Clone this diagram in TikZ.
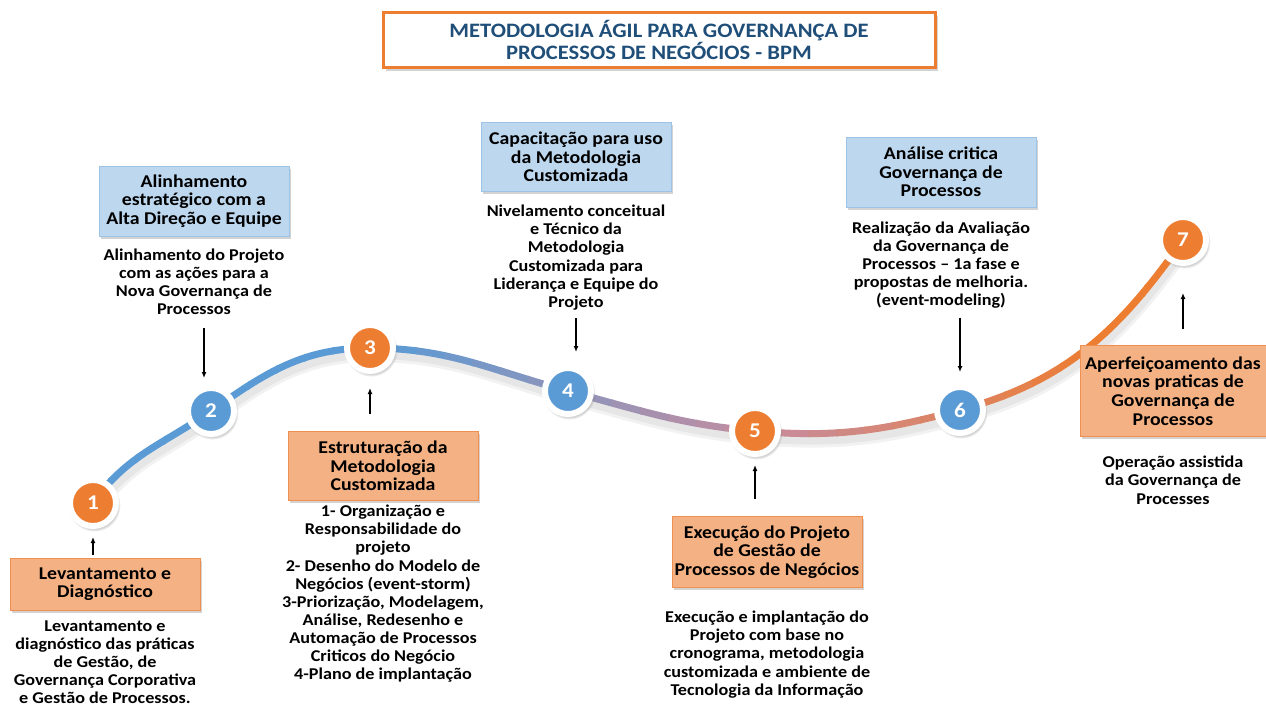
\documentclass[tikz,border=0pt]{standalone}
\usepackage{fontspec}
\setmainfont{Carlito}[FakeStretch=1.1]
\usetikzlibrary{arrows.meta,shadows,backgrounds,positioning}
\definecolor{laranja}{HTML}{ED7D31}
\definecolor{azul}{HTML}{5B9BD5}
\definecolor{malva}{HTML}{C78C9E}
\definecolor{laranjaClaro}{HTML}{F4B183}
\definecolor{azulClaro}{HTML}{BDD7EE}
\definecolor{azulBorda}{HTML}{9DC3E6}
\definecolor{tituloAzul}{HTML}{1F4E79}
\newcommand{\trilhaPath}{(c1.center) to[out=55,in=215] (c2.center) to[out=35,in=180] (c3.center) to[out=0,in=165] (c4.center) to[out=-15,in=175] (c5.center) to[out=-5,in=195] (c6.center) to[out=15,in=235] (c7.center)}

\begin{document}
\begin{tikzpicture}[x=1pt,y=1pt]
\tikzset{
  etapa/.style={circle, inner sep=0pt, minimum size=46pt, line width=6pt, draw=white, fill=#1, text=white,
    font=\fontsize{21}{21}\selectfont\bfseries, circular drop shadow={shadow scale=1.15, shadow xshift=1pt, shadow yshift=-2pt, opacity=.45}},
  caixa/.style={line width=1pt, align=center, minimum width=190pt, inner sep=2pt,
    font=\fontsize{18}{18.6}\selectfont\bfseries, drop shadow={shadow xshift=2pt, shadow yshift=-2.5pt, opacity=.35}},
  caixaL/.style={caixa, fill=laranjaClaro, draw=laranja!85},
  caixaA/.style={caixa, fill=azulClaro, draw=azulBorda},
  desc/.style={align=center, inner sep=0pt, font=\fontsize{16.5}{18.1}\selectfont\bfseries},
  seta/.style={-{Latex[length=6pt,width=5pt]}, line width=1.3pt},
  trilha/.style={line width=7pt},
  sombra/.style={line width=#1, black, opacity=.05, line cap=round}
}
\useasboundingbox (0,0) rectangle (1266,-707);

\node[draw=laranja, line width=3pt, fill=white, minimum width=552pt, minimum height=55pt, align=center,
  text=tituloAzul, font=\fontsize{20.5}{22}\selectfont\bfseries,
  drop shadow={shadow xshift=3pt, shadow yshift=-3pt, opacity=.35}] (titulo) at (659,-40)
  {METODOLOGIA ÁGIL PARA GOVERNANÇA DE\\ PROCESSOS DE NEGÓCIOS - BPM};

\node[etapa=laranja] (c1) at (93,-503) {1};
\node[etapa=azul] (c2) at (211,-411) {2};
\node[etapa=laranja] (c3) at (370,-348) {3};
\node[etapa=azul] (c4) at (568,-391) {4};
\node[etapa=laranja] (c5) at (755,-431) {5};
\node[etapa=azul] (c6) at (960,-410) {6};
\node[etapa=laranja] (c7) at (1183,-240) {7};

\begin{scope}[on background layer]
  \draw[sombra=16pt, transform canvas={xshift=2pt, yshift=-6pt}] \trilhaPath;
  \draw[sombra=10pt, transform canvas={xshift=2pt, yshift=-6pt}] \trilhaPath;
  \foreach \i in {0,...,39} {
    \pgfmathsetmacro\xa{80+\i*28}
    \pgfmathsetmacro\pa{min(max((\xa-370)/385,0),1)*100}
    \pgfmathsetmacro\pb{min(max((\xa-755)/330,0),1)*100}
    \colorlet{corTmp}{malva!\pa!azul}
    \begin{scope}
      \clip (\xa,0) rectangle (\xa+29.5,-707);
      \draw[trilha, color=laranja!\pb!corTmp] \trilhaPath;
    \end{scope}
  }
\end{scope}

\node[caixaL, minimum height=52pt] (b1) at (105,-584) {Levantamento e\\ Diagnóstico};
\node[caixaA, minimum height=70pt] (b2) at (194,-201) {Alinhamento\\ estratégico com a\\ Alta Direção e Equipe};
\node[caixaL, minimum height=69pt] (b3) at (383,-466) {Estruturação da\\ Metodologia\\ Customizada};
\node[caixaA, minimum height=69pt] (b4) at (576,-157) {Capacitação para uso\\ da Metodologia\\ Customizada};
\node[caixaL, minimum height=71pt] (b5) at (767,-552) {Execução do Projeto\\ de Gestão de\\ Processos de Negócios};
\node[caixaA, minimum height=70pt] (b6) at (941,-172) {Análise critica\\ Governança de\\ Processos};
\node[caixaL, minimum height=91pt, minimum width=186pt] (b7) at (1173,-391) {Aperfeiçoamento das\\ novas praticas de\\ Governança de\\ Processos};

\node[desc, below=10pt of b1] (d1) {Levantamento e\\ diagnóstico das práticas\\ de Gestão, de\\ Governança Corporativa\\ e Gestão de Processos.};
\node[desc, below=12pt of b2] (d2) {Alinhamento do Projeto\\ com as ações para a\\ Nova Governança de\\ Processos};
\node[desc, below=4pt of b3] (d3) {1- Organização e\\ Responsabilidade do\\ projeto\\ 2- Desenho do Modelo de\\ Negócios (event-storm)\\ 3-Priorização, Modelagem,\\ Análise, Redesenho e\\ Automação de Processos\\ Criticos do Negócio\\ 4-Plano de implantação};
\node[desc, below=13pt of b4] (d4) {Nivelamento conceitual\\ e Técnico da\\ Metodologia\\ Customizada para\\ Liderança e Equipe do\\ Projeto};
\node[desc, below=23pt of b5] (d5) {Execução e implantação do\\ Projeto com base no\\ cronograma, metodologia\\ customizada e ambiente de\\ Tecnologia da Informação};
\node[desc, below=14pt of b6] (d6) {Realização da Avaliação\\ da Governança de\\ Processos – 1a fase e\\ propostas de melhoria.\\ (event-modeling)};
\node[desc, below=19pt of b7] (d7) {Operação assistida\\ da Governança de\\ Processes};

\draw[seta, shorten <=3pt, shorten >=8pt] (b1.north -| c1) -- (c1.south);
\draw[seta, shorten <=13pt, shorten >=7pt, transform canvas={xshift=-7pt}] (d2.south -| c2) -- (c2.north);
\draw[seta, shorten <=17pt, shorten >=14pt] (b3.north -| c3) -- (c3.south);
\draw[seta, shorten <=8pt, shorten >=13pt] (d4.south) -- (d4.south |- c4.north);
\draw[seta, shorten <=17pt, shorten >=8pt] (b5.north -| c5) -- (c5.south);
\draw[seta, shorten <=9pt, shorten >=12pt] (d6.south -| c6) -- (c6.north);
\draw[seta, shorten <=16pt, shorten >=27pt] (b7.north -| c7) -- (c7.south);
\end{tikzpicture}
\end{document}
